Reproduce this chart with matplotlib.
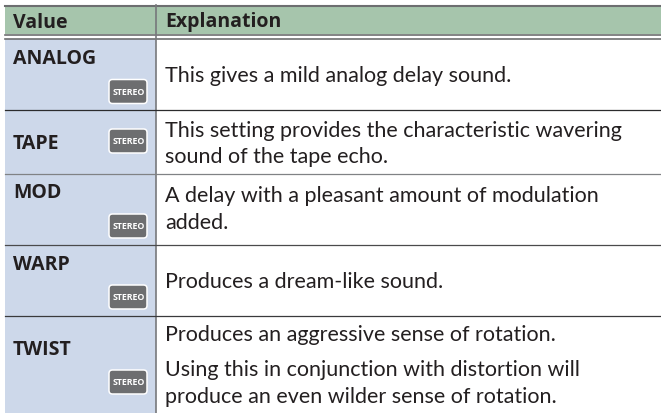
import matplotlib
matplotlib.use("Agg")
import matplotlib.pyplot as plt
from matplotlib.patches import Rectangle, FancyBboxPatch

W, H = 661, 414

headers = ["Value", "Explanation"]
values = ["ANALOG", "TAPE", "MOD", "WARP", "TWIST"]
badge_text = "STEREO"
explanations = [
    "This gives a mild analog delay sound.",
    "This setting provides the characteristic wavering",
    "sound of the tape echo.",
    "A delay with a pleasant amount of modulation",
    "added.",
    "Produces a dream-like sound.",
    "Produces an aggressive sense of rotation.",
    "Using this in conjunction with distortion will",
    "produce an even wilder sense of rotation.",
]

# pixel positions (text y = baseline)
row_lines = [111, 175, 246, 317]
line_colors = ["#2b2b2d", "#808285", "#4a4a4c", "#3a3a3c"]
value_y = [64.5, 149.5, 198.5, 270.5, 355.5]
badge_y = [92.5, 142, 227, 298, 383]
expl_y = [82.5, 137.5, 163.5, 202.5, 229.5, 288.5, 341.5, 376.5, 403.5]

fig = plt.figure(figsize=(W / 100, H / 100), dpi=100)
ax = fig.add_axes([0, 0, 1, 1])
ax.set_xlim(0, W)
ax.set_ylim(H, 0)
ax.axis("off")

left, sep = 4.5, 156
font = "Lato"
bold_font = "Open Sans"
ink = "#231f20"

ax.add_patch(Rectangle((left, 6), W - left, 29, fc="#a6c5ac", ec="none"))
ax.add_patch(Rectangle((left, 40), sep - left, H - 40, fc="#cdd8ea", ec="none"))
ax.plot([left, W], [6.5, 6.5], color="#6d6e70", lw=1.5)
ax.plot([left, W], [35.5, 35.5], color="#6d6e70", lw=1.2)
ax.plot([left, W], [40, 40], color="#6d6e70", lw=1.2)
ax.plot([sep, sep], [6, H], color="#77787b", lw=1.2)
for y, c in zip(row_lines, line_colors):
    ax.plot([left, W], [y, y], color=c, lw=0.9)

ax.text(13, 27.5, headers[0], fontsize=14, fontweight="bold", family=bold_font, color=ink)
ax.text(165, 27.5, headers[1], fontsize=14, fontweight="bold", family=bold_font, color=ink)

for name, y in zip(values, value_y):
    ax.text(13, y, name, fontsize=14, fontweight="bold", family=bold_font, color=ink)

for y in badge_y:
    ax.add_patch(FancyBboxPatch((109, y - 12), 38, 24, boxstyle="round,pad=0,rounding_size=3.5",
                                fc="#6d6e70", ec="white", lw=1.1))
    ax.text(128.5, y, badge_text, fontsize=6.4, fontweight="bold", family=bold_font, color="white",
            ha="center", va="center")

for line, y in zip(explanations, expl_y):
    ax.text(165, y, line, fontsize=15.5, family=font, color=ink)

fig.savefig("out.png", dpi=100)
